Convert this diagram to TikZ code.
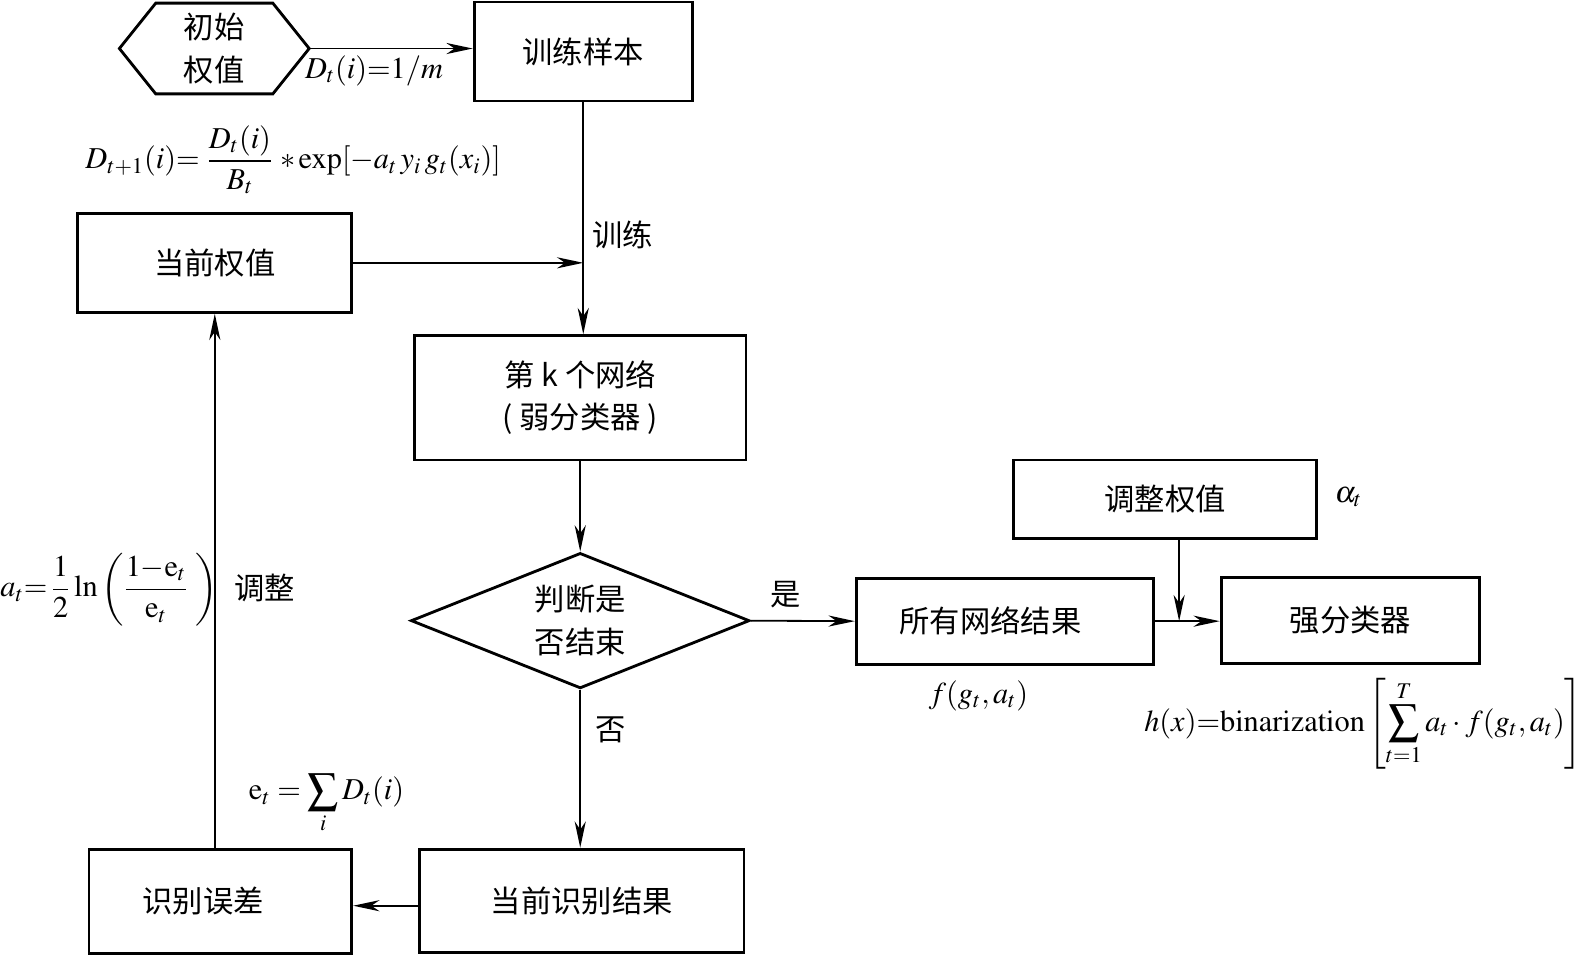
\documentclass[tikz,border=0pt]{standalone}
\usepackage{amsmath}
\usepackage{mathptmx}
\usepackage[no-math]{fontspec}
\setmainfont{Liberation Serif}
\newfontfamily\cjk{Noto Sans CJK SC}
\usetikzlibrary{shapes.geometric,arrows.meta,calc}
\tikzset{
  box/.style={draw, line width=1.4pt, inner sep=0pt, align=center,
    font=\cjk\fontsize{15}{21}\selectfont},
  lab/.style={inner sep=0pt, font=\cjk\fontsize{15}{21}\selectfont},
  eq/.style={inner sep=0pt, font=\fontsize{15}{18}\selectfont},
  arr/.style={line width=0.9pt, -{Stealth[length=13pt,width=5.5pt,inset=4pt]}},
  ln/.style={line width=0.9pt}
}
\begin{document}
\begin{tikzpicture}[x=0.5pt,y=-0.5pt]
\useasboundingbox (0,0) rectangle (1568,947);
% nodes (sizes in pt = half of pixel sizes)
\node[box, draw=none, minimum width=92.5pt, minimum height=43.5pt] (init) at (212,48) {初始\\权值};
\draw[line width=1.4pt] (init.west) -- ($(init.north west)+(36,0)$) -- ($(init.north east)+(-36,0)$)
  -- (init.east) -- ($(init.south east)+(-36,0)$) -- ($(init.south west)+(36,0)$) -- cycle;
\node[box, minimum width=108pt, minimum height=49pt] (train) at (577,51) {训练样本};
\node[box, minimum width=135.5pt, minimum height=49pt] (curw) at (212.5,260) {当前权值};
\node[box, minimum width=164pt, minimum height=61.5pt] (net) at (574,393.5) {第 k 个网络\\( 弱分类器 )};
\node[box, diamond, shape aspect=2.5, minimum width=167.5pt, minimum height=67pt] (dia) at (574,614) {判断是\\否结束};
\node[box, minimum width=147pt, minimum height=42.5pt] (all) at (994,614.5) {\hspace*{-14pt}所有网络结果};
\node[box, minimum width=149.5pt, minimum height=39pt] (adj) at (1152.5,494) {调整权值};
\node[box, minimum width=128pt, minimum height=42.5pt] (strong) at (1336,613.5) {强分类器};
\node[box, minimum width=160.5pt, minimum height=51pt] (cur) at (575.5,891) {当前识别结果};
\node[box, minimum width=130pt, minimum height=51.5pt] (err) at (218,891.5) {\hspace*{-17pt}识别误差};
% connectors
\draw[arr] (init.east) -- (init.east -| train.west);
\coordinate (j1) at (curw.east -| train.south);
\draw[arr] (train.south) -- (train.south |- net.north);
\draw[arr] (curw.east) -- (j1);
\draw[arr] (net.south) -- (dia.north);
\draw[arr] (dia.east) -- (all.west);
\draw[arr] (all.east) -- (all.east -| strong.west);
\coordinate (m) at ($(adj.south)+(14,0)$);
\draw[arr] (m) -- (m |- all.east);
\draw[arr] (dia.south) -- (dia.south |- cur.north);
\draw[arr] (cur.west |- 0,896) -- (err.east |- 0,896);
\draw[arr] (err.north -| curw.south) -- (curw.south);
% labels
\node[lab] (l1) at (616,232) {训练};
\node[lab] (l2) at (777,588) {是};
\node[lab] (l3) at (604,722) {否};
\node[lab] (l4) at (262,582) {调整};
\node[eq] (e1) at (370,70) {$D_t(i){=}1/m$};
\node[eq] (e2) at (290,158) {$D_{t+1}(i){=}\;\dfrac{D_t(i)}{B_t}\;{*}\exp[-a_t\,y_i\,g_t(x_i)]$};
\node[eq, anchor=west] (e3) at (0,583) {$a_t{=}\,\dfrac{1}{2}\ln\left(\dfrac{1{-}\mathrm{e}_t}{\mathrm{e}_t}\;\right)$};
\node[eq] (e4) at (323,795) {$\mathrm{e}_t=\displaystyle\sum_i D_t(i)$};
\node[eq] (e5) at (968,688) {$f(g_t,a_t)$};
\node[eq, anchor=east] (e6) at (1566,716) {$h(x){=}\mathrm{binarization}\left[\displaystyle\sum_{t=1}^{T}a_t\cdot f(g_t,a_t)\right]$};
\node[eq] (e7) at (1334,492) {$\alpha_t$};
\end{tikzpicture}
\end{document}
